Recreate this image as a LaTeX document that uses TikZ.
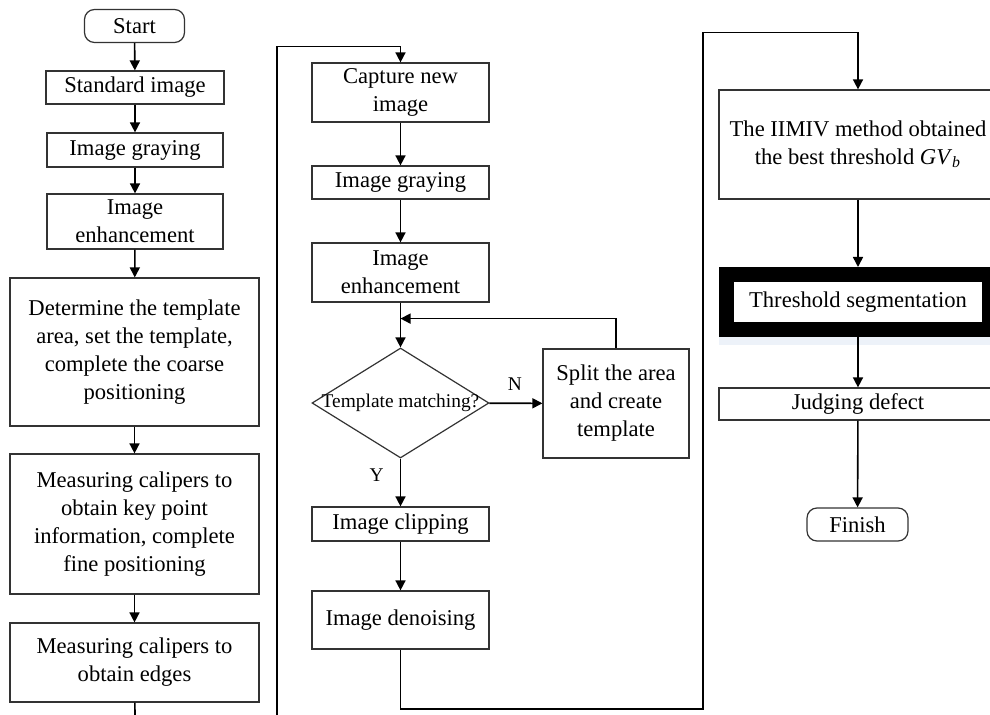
\documentclass[tikz,border=0pt]{standalone}
\usepackage{fontspec}
\setmainfont{Liberation Serif}
\usepackage{xcolor}
\usetikzlibrary{positioning,arrows.meta,calc,shapes.geometric,backgrounds}
\definecolor{ink}{HTML}{000000}
\definecolor{edge}{HTML}{333333}
\definecolor{glow}{HTML}{EDF2F9}

\begin{document}
\begin{tikzpicture}[x=0.5pt,y=-0.5pt,
    font=\fontsize{11.3}{14}\selectfont,
    stepbox/.style={draw=edge, line width=0.6pt, fill=white, align=center, inner sep=0pt},
    termbox/.style={stepbox, rounded corners=5pt},
    decision/.style={draw=edge, diamond, line width=0.6pt, inner sep=0pt,
      minimum width=88.5pt, minimum height=55pt},
    flow/.style={draw=ink, line width=0.8pt, -{Triangle[length=5pt,width=5pt]}},
    wire/.style={draw=ink, line width=0.8pt},
    small/.style={font=\fontsize{9.7}{12}\selectfont, inner sep=0pt}]
  \useasboundingbox (0,0) rectangle (990,715);

  % left column
  \node[termbox, minimum width=50pt, minimum height=16.5pt] (start) at (134.5,26) {Start};
  \node[stepbox, minimum width=89pt, minimum height=16.5pt] (std) at (135,87.5) {Standard image};
  \node[stepbox, minimum width=88pt, minimum height=17pt] (gray1) at (135,150) {Image graying};
  \node[stepbox, minimum width=88pt, minimum height=27.5pt] (enh1) at (135,221.5) {Image\\enhancement};
  \node[stepbox, minimum width=124.5pt, minimum height=74pt] (tmpl) at (134.5,352)
    {Determine the template\\area, set the template,\\complete the coarse\\positioning};
  \node[stepbox, minimum width=124.5pt, minimum height=70pt] (fine) at (134.5,524)
    {Measuring calipers to\\obtain key point\\information, complete\\fine positioning};
  \node[stepbox, minimum width=124.5pt, minimum height=39.5pt] (edges) at (134.5,662.5)
    {Measuring calipers to\\obtain edges};
  \coordinate (leftout) at (135,715);

  % middle column
  \coordinate (midin) at (277,715);
  \node[stepbox, minimum width=88.5pt, minimum height=29.5pt] (capture) at (400.5,92.5) {Capture new\\image};
  \node[stepbox, minimum width=88.5pt, minimum height=16.5pt] (gray2) at (400.5,182.5) {Image graying};
  \node[stepbox, minimum width=88.5pt, minimum height=29.5pt] (enh2) at (400.5,272.5) {Image\\enhancement};
  \node[decision] (match) at (400.5,403) {\makebox[0pt]{\fontsize{9.7}{12}\selectfont Template matching?}};
  \node[stepbox, minimum width=73pt, minimum height=54.5pt] (split) at (616,403.5) {Split the area\\and create\\template};
  \node[stepbox, minimum width=88.5pt, minimum height=17pt] (clip) at (400.5,524) {Image clipping};
  \node[stepbox, minimum width=88.5pt, minimum height=29pt] (denoise) at (400.5,620) {Image denoising};
  \coordinate (turn) at (703,709);

  % right column
  \node[stepbox, minimum width=139pt, minimum height=54.5pt] (iimiv) at (858,144.5)
    {The IIMIV method obtained\\the best threshold \textit{GV}\textsubscript{\textit{b}}};
  \node[stepbox, draw=black, line width=7.5pt, minimum width=131.5pt, minimum height=27.5pt] (thresh) at (858,302)
    {Threshold segmentation};
  \node[stepbox, minimum width=139pt, minimum height=16pt] (judge) at (858,404) {Judging defect};
  \node[termbox, minimum width=50.5pt, minimum height=16.5pt] (finish) at (857.5,524.5) {Finish};

  \begin{scope}[on background layer]
    \fill[glow] ([yshift=-4pt]thresh.south west) rectangle (thresh.north east);
  \end{scope}

  \draw[flow] (start) -- (std);
  \draw[flow] (std) -- (gray1);
  \draw[flow] (gray1) -- (enh1);
  \draw[flow] (enh1) -- (tmpl);
  \draw[flow] (tmpl) -- (fine);
  \draw[flow] (fine) -- (edges);
  \draw[wire] (edges) -- (leftout);

  \draw[flow] (midin) |- ([yshift=8pt]capture.north) -- (capture.north);
  \draw[flow] (capture) -- (gray2);
  \draw[flow] (gray2) -- (enh2);
  \draw[flow] (enh2) -- (match);
  \draw[flow] (match) -- node[small, above=6pt, pos=0.48] {N} (split);
  \draw[flow] (split.north) |- ([yshift=-8pt]enh2.south);
  \draw[flow] (match) -- node[small, left=8pt, pos=0.35] {Y} (clip);
  \draw[flow] (clip) -- (denoise);
  \draw[flow] (denoise.south) |- (turn) |- ([yshift=28.5pt]iimiv.north) -- (iimiv.north);

  \draw[flow] (iimiv) -- (thresh);
  \draw[flow] (thresh) -- (judge);
  \draw[flow] (judge) -- (finish);
\end{tikzpicture}
\end{document}
